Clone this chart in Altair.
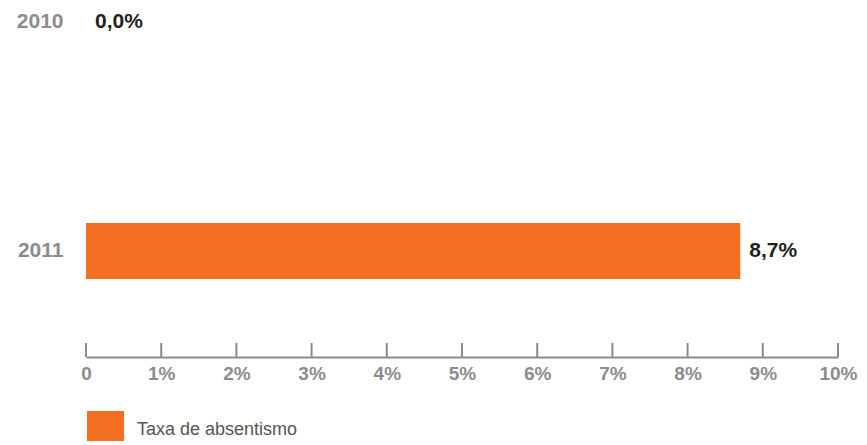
import altair as alt
import pandas as pd

years = ["2010", "2011"]
values = [0.0, 8.7]
value_labels = ["0,0%", "8,7%"]
series_name = "Taxa de absentismo"
x_ticks = list(range(0, 11))

ORANGE = "#F36F21"
GRAY = "#8C8C8F"
FONT = "Liberation Sans"

PLOT_W = 752
PLOT_H = 337

df = pd.DataFrame({"ano": years, "valor": values, "rotulo": value_labels,
                   "serie": [series_name] * len(years)})
ticks_df = pd.DataFrame({"t": x_ticks})

x_scale = alt.Scale(domain=[0, 10], nice=False, zero=True)
y_scale = alt.Scale(domain=years, range=[-26, 259], paddingInner=0.755, paddingOuter=0)

x_axis = alt.Axis(values=x_ticks, labelExpr="datum.value == 0 ? '0' : datum.value + '%'",
                  ticks=False, grid=False, domainColor=GRAY, domainWidth=2,
                  labelColor=GRAY, labelFont=FONT, labelFontSize=19, labelFontWeight="bold",
                  labelPadding=7, labelFlush=False, labelOverlap=False, title=None)
y_axis = alt.Axis(ticks=False, domain=False, grid=False, labelColor=GRAY, labelFont=FONT,
                  labelFontSize=21, labelFontWeight="bold", labelPadding=23, title=None)

bars = alt.Chart(df).mark_bar().encode(
    x=alt.X("valor:Q", scale=x_scale, axis=x_axis),
    y=alt.Y("ano:N", scale=y_scale, axis=y_axis),
    color=alt.Color("serie:N", scale=alt.Scale(range=[ORANGE]),
                    legend=alt.Legend(title=None, orient="none", legendX=1, legendY=391,
                                      symbolType="square", symbolSize=1369,
                                      symbolStrokeWidth=0, labelFont=FONT,
                                      labelFontSize=18, labelColor="#555555",
                                      labelOffset=13, labelLimit=400)),
)

texts = alt.Chart(df).mark_text(align="left", baseline="middle", dx=9, font=FONT,
                                fontSize=21, fontWeight="bold", color="#231F20").encode(
    x=alt.X("valor:Q", scale=x_scale),
    y=alt.Y("ano:N", scale=y_scale),
    text="rotulo:N",
)

tick_rules = alt.Chart(ticks_df).mark_rule(color=GRAY, strokeWidth=2).encode(
    x=alt.X("t:Q", scale=x_scale),
    y=alt.value(PLOT_H - 14),
    y2=alt.value(PLOT_H),
)

chart = alt.layer(bars, tick_rules, texts).properties(
    width=PLOT_W, height=PLOT_H,
    autosize=alt.AutoSizeParams(type="none"),
    padding={"left": 78, "top": 12, "right": 21, "bottom": 84},
).configure_view(stroke=None)

chart.save("out.html", embed_options={"renderer": "svg", "actions": False})
